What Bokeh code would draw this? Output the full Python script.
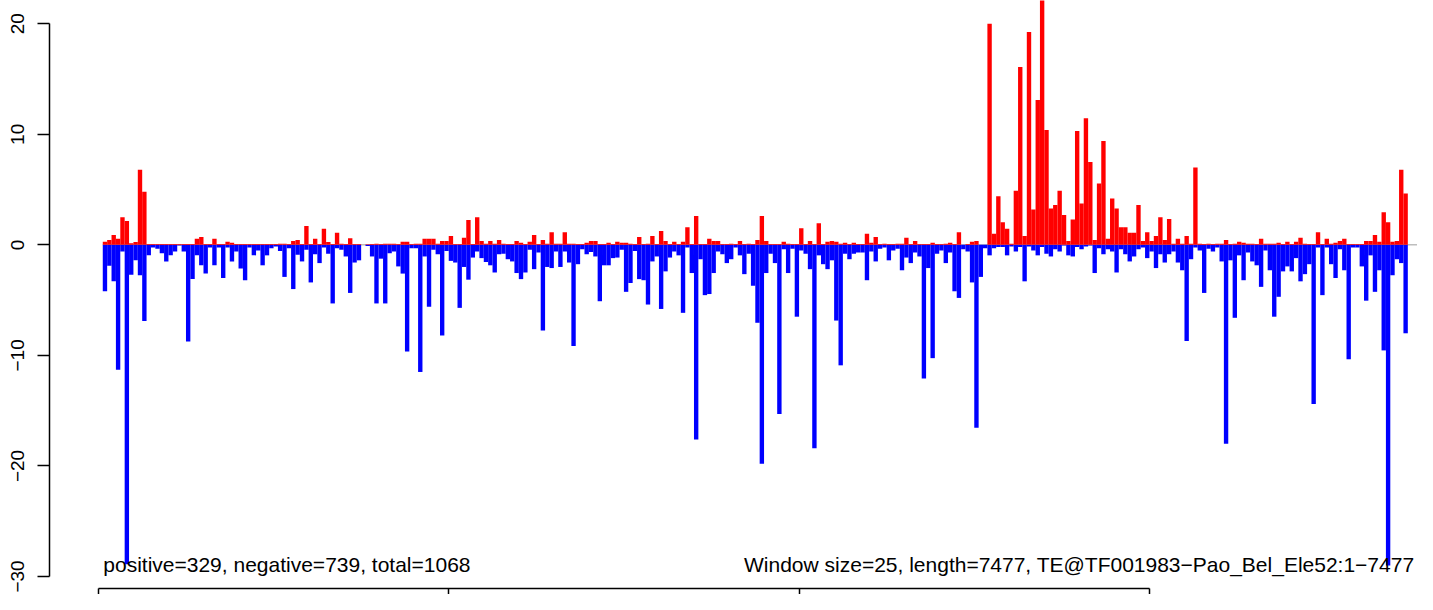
import math
from bokeh.plotting import figure
from bokeh.models import Range1d, LinearAxis, FixedTicker, Label
from bokeh.embed import file_html
from bokeh.resources import INLINE

# ---------------- data ----------------
WINDOW = 25
LENGTH = 7477

pos = [
    0.27, 0.45, 0.9, 0.55, 2.5, 2.15, 0.15, 0.25, 6.8, 4.8,
    0.08, 0.08, 0.08, 0.08, 0.08, 0.08, 0.08, 0.08, 0.08, 0.08,
    0.08, 0.55, 0.7, 0.08, 0.08, 0.55, 0.08, 0.08, 0.27, 0.2,
    0.08, 0.08, 0.08, 0.08, 0.08, 0.08,
    0.08, 0.08, 0.08, 0.08,
    0.1, 0.1, 0.08, 0.35, 0.45, 0.08, 1.7, 0.08, 0.55, 0.08,
    1.45, 0.25, 0.08, 1.1, 0.1, 0.08, 0.6, 0.08, 0.08, 0.0,
    0.05, 0.08, 0.1, 0.08, 0.1, 0.1, 0.1, 0.08, 0.27, 0.27,
    0.08, 0.1, 0.1, 0.55,
    0.55, 0.55, 0.1, 0.35, 0.35, 0.8,
    0.08, 0.08, 0.65, 2.25, 0.08, 2.5, 0.35, 0.1, 0.35, 0.1,
    0.45, 0.1, 0.08, 0.08, 0.35, 0.2, 0.08, 0.27, 0.9, 0.08,
    0.45, 0.1, 1.15, 0.1, 0.1, 1.15, 0.1, 0.1, 0.08, 0.08,
    0.2, 0.35,
    0.35, 0.08, 0.08, 0.2, 0.08, 0.27, 0.2, 0.2,
    0.1, 0.08, 0.7, 0.08, 0.1, 0.8, 0.08, 1.25, 0.35, 0.08,
    0.27, 0.08, 0.27, 1.6, 0.08, 2.6, 0.08, 0.08, 0.55, 0.35,
    0.35, 0.08, 0.08, 0.1, 0.08, 0.35, 0.08, 0.1, 0.08, 0.45, 2.6,
    0.35, 0.08, 0.08, 0.08, 0.27, 0.1, 0.08, 0.08, 1.5,
    0.08, 0.35, 0.08, 1.95, 0.08, 0.27, 0.35, 0.27, 0.1, 0.2,
    0.08, 0.2, 0.08, 0.08, 1.0, 0.2, 0.7, 0.08, 0.1, 0.08,
    0.08, 0.1, 0.1, 0.65, 0.08, 0.35, 0.08, 0.08, 0.08,
    0.18, 0.08, 0.08, 0.1, 0.18, 0.08, 1.15, 0.0, 0.08, 0.27, 0.35,
    0.0, 0.0, 20.0, 1.0, 4.4, 2.05, 1.45, 0.1, 4.9, 16.1,
    0.8, 19.25, 3.2, 13.1, 24.5, 10.4, 3.3, 3.6, 4.9, 2.7,
    0.35, 2.3, 10.3, 3.75, 11.45, 7.5, 0.45, 5.55, 9.4, 0.55,
    4.2, 3.3, 1.6, 1.6, 1.1, 1.1, 3.6, 0.35, 1.15, 0.35,
    0.8, 2.5, 0.45, 2.35, 0.1, 0.55, 0.1, 0.8, 0.1, 7.0,
    0.1, 0.08, 0.1, 0.08, 0.1, 0.1, 0.45, 0.08, 0.1, 0.27,
    0.2, 0.1, 0.1, 0.08, 0.55, 0.1,
    0.1, 0.1, 0.2, 0.08, 0.27, 0.08, 0.27, 0.65, 0.1, 0.08,
    0.08, 1.15, 0.08, 0.55, 0.1, 0.2, 0.35, 0.55, 0.08, 0.08,
    0.08, 0.08, 0.35, 0.35, 0.9, 0.27, 2.95, 2.05, 0.27, 0.35, 6.8, 4.65,
]

neg = [
    -4.2, -1.9, -3.3, -11.3, -0.6, -28.9, -2.7, -1.4, -2.75, -6.9,
    -0.95, -0.25, -0.35, -0.75, -1.5, -0.95, -0.6, -0.05, -0.6, -8.75,
    -3.1, -0.95, -1.85, -2.6, -0.25, -1.85, -0.25, -3.0, -0.25, -1.5,
    -0.6, -2.15, -3.2, -0.25, -0.95, -0.5,
    -1.85, -0.95, -0.3, -0.15,
    -0.55, -2.9, -0.3, -4.0, -0.9, -1.5, -0.45, -3.4, -0.85, -1.65,
    -0.25, -0.8, -5.3, -0.3, -0.45, -1.05, -4.35, -1.6, -1.4, 0.0,
    -0.1, -1.05, -5.3, -1.25, -5.3, -0.75, -0.6, -1.95, -2.6, -9.65,
    -0.3, -0.3, -11.5, -1.05,
    -5.6, -0.45, -0.85, -8.2, -0.55, -1.45,
    -1.6, -5.7, -2.0, -3.15, -1.15, -0.6, -1.2, -1.55, -1.85, -2.5,
    -0.85, -0.8, -1.3, -1.5, -2.55, -3.1, -2.5, -0.45, -2.2, -0.7,
    -7.75, -2.0, -2.1, -0.6, -2.0, -0.6, -1.6, -9.15, -1.75, -0.4,
    -0.85, -0.65,
    -1.05, -5.1, -1.85, -1.85, -1.2, -1.15, -0.45, -4.25,
    -3.45, -0.55, -3.1, -3.2, -5.4, -1.5, -1.05, -5.8, -2.4, -1.15,
    -0.6, -0.95, -6.15, -0.25, -2.55, -17.6, -1.3, -4.55, -4.45, -2.55,
    -0.6, -0.85, -1.65, -1.3, -0.25, -0.95, -2.65, -0.8, -3.7, -7.05, -19.8,
    -2.55, -0.8, -1.65, -15.3, -0.4, -2.55, -0.35, -6.5, -0.5,
    -0.8, -2.2, -18.4, -0.95, -1.75, -2.2, -1.4, -6.85, -10.9, -0.8,
    -1.3, -0.8, -0.7, -0.7, -3.2, -0.6, -1.5, -0.35, -0.25, -1.4,
    -0.5, -0.35, -2.3, -1.15, -1.65, -0.7, -1.05, -12.1, -2.1,
    -10.25, -0.8, -0.5, -1.65, -0.7, -4.2, -4.8, -0.4, -0.6, -3.4, -16.55,
    -2.9, -0.3, -0.95, -0.3, -0.2, -0.2, -0.95, -0.15, -0.6, -0.2,
    -3.3, -0.15, -0.5, -0.95, -0.2, -0.8, -1.05, -0.4, -0.6, -0.05,
    -0.95, -1.05, -0.2, -0.4, -0.15, -0.05, -2.55, -0.3, -0.85, -0.4,
    -0.6, -2.5, -0.4, -0.85, -1.5, -1.05, -0.4, -0.25, -1.2, -0.6,
    -2.1, -0.85, -1.6, -0.85, -0.6, -1.6, -2.3, -8.7, -1.3, -0.25,
    -0.5, -4.35, -0.35, -0.6, -0.25, -1.5, -18.0, -1.4, -6.6, -0.95,
    -3.2, -0.7, -1.5, -1.85, -3.8, -0.5,
    -2.3, -6.5, -4.7, -2.4, -1.95, -2.4, -1.2, -3.3, -2.65, -1.75,
    -14.4, -0.25, -4.55, -0.25, -1.75, -3.0, -0.4, -2.3, -10.35, -0.25,
    -0.25, -1.95, -5.05, -0.95, -4.25, -2.3, -9.55, -29.0, -2.75, -1.3, -1.65, -8.0,
]

y_ticks = [-30, -20, -10, 0, 10, 20]
y_tick_labels = ["\u221230", "\u221220", "\u221210", "0", "10", "20"]
x_ticks = [0, 2000, 4000, 6000]
left_note = "positive=329, negative=739, total=1068"
right_note = "Window size=25, length=7477, TE@TF001983\u2212Pao_Bel_Ele52:1\u22127477"

assert len(pos) == len(neg)

starts = [WINDOW * (i + 1) for i in range(len(pos))]
ends = [s + WINDOW for s in starts]

# ---------------- figure ----------------
X_START, X_END = -279.1, 7530.3
Y_START, Y_END = -31.09, 22.107

p = figure(width=1417, height=594, output_backend="svg", toolbar_location=None,
           x_range=Range1d(X_START, X_END), y_range=Range1d(Y_START, Y_END),
           x_axis_location=None, y_axis_location=None,
           min_border_left=49, min_border_right=0, min_border_top=0,
           min_border_bottom=6)
p.outline_line_color = None
p.grid.visible = False
p.background_fill_color = "white"
p.border_fill_color = "white"

yaxis = LinearAxis(ticker=FixedTicker(ticks=y_ticks),
                   major_label_overrides=dict(zip(y_ticks, y_tick_labels)),
                   bounds=(y_ticks[0], y_ticks[-1]),
                   major_tick_out=12, major_tick_in=0,
                   minor_tick_out=0, minor_tick_in=0,
                   major_label_orientation="parallel",
                   major_label_standoff=13,
                   axis_line_width=1.5, major_tick_line_width=1.5,
                   axis_line_color="black", major_tick_line_color="black",
                   major_label_text_font="Liberation Sans",
                   major_label_text_font_size="19px",
                   major_label_text_color="black")
p.add_layout(yaxis, "left")

# x axis: tick marks only (its labels are outside the reference picture)
xaxis = LinearAxis(ticker=FixedTicker(ticks=[], minor_ticks=x_ticks),
                   bounds=(x_ticks[0], x_ticks[-1]),
                   major_tick_out=0, major_tick_in=0,
                   minor_tick_out=6, minor_tick_in=0,
                   minor_tick_line_width=1.5, minor_tick_line_color="black",
                   major_label_standoff=0,
                   axis_line_width=1.5, axis_line_color="black")
p.add_layout(xaxis, "below")

# zero reference line
p.segment(x0=[starts[0]], y0=[0], x1=[X_END], y1=[0],
          line_color="#BEBEBE", line_width=1.5)

# bars
p.quad(left=starts, right=ends, bottom=neg, top=0,
       fill_color="#0000FF", line_color=None)
p.quad(left=starts, right=ends, bottom=0, top=pos,
       fill_color="#FF0000", line_color=None)

p.add_layout(Label(x=28, y=-28.9, text=left_note, text_align="left",
                   text_baseline="alphabetic", text_font="Liberation Sans",
                   text_font_size="21px", text_color="black"))
p.add_layout(Label(x=7513, y=-28.9, text=right_note, text_align="right",
                   text_baseline="alphabetic", text_font="Liberation Sans",
                   text_font_size="21px", text_color="black"))

open("out.html", "w").write(file_html(p, INLINE, "plot"))
